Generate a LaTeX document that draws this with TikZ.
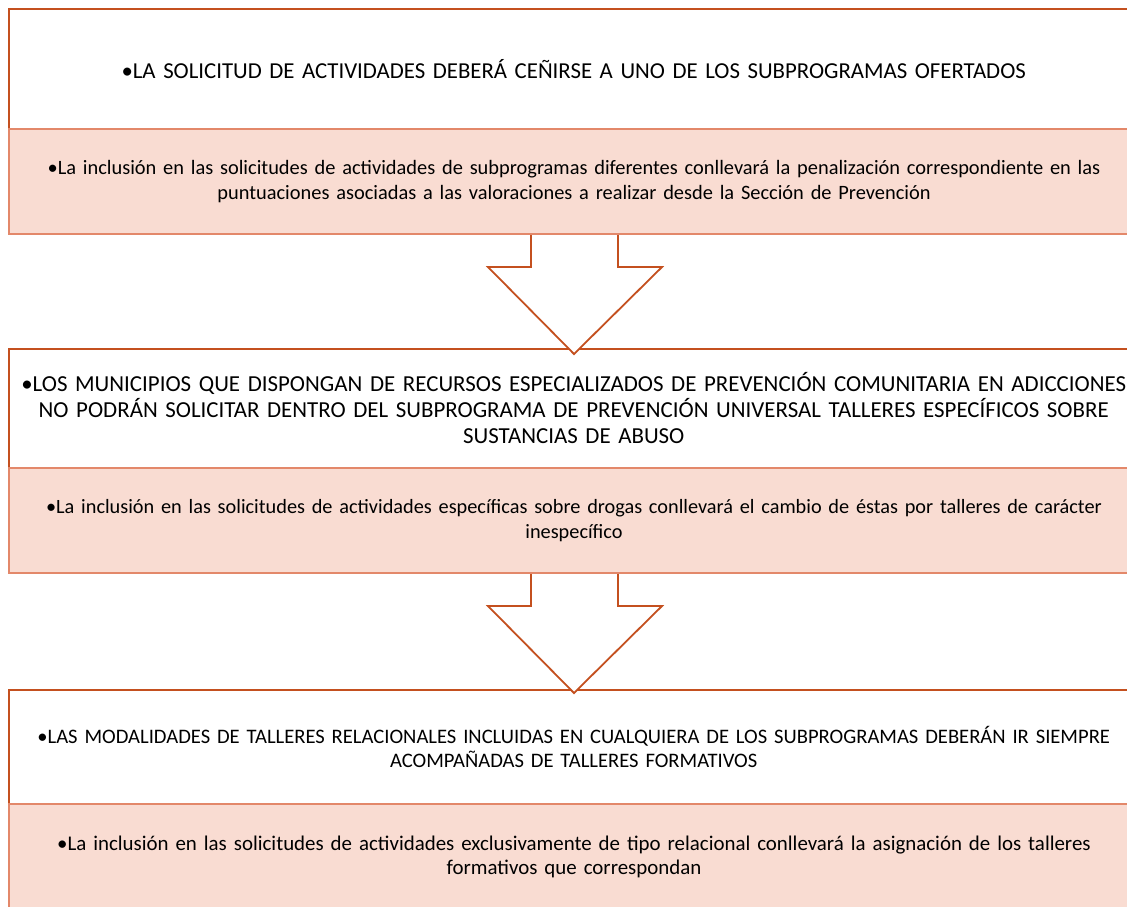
\documentclass[tikz,border=0pt]{standalone}
\usepackage{fontspec}
\setmainfont{Carlito}
\usetikzlibrary{calc}
\definecolor{boxline}{HTML}{C4501F}
\definecolor{pinkfill}{HTML}{F9DCD2}
\definecolor{pinkline}{HTML}{E3886A}
\tikzset{
  whitebox/.style={draw=boxline, line width=1.5pt, fill=white, rectangle, anchor=north west,
    minimum width=1130pt, text width=1125pt, align=center, inner sep=0pt},
  pinkbox/.style={draw=pinkline, line width=2pt, fill=pinkfill, rectangle, anchor=north west,
    minimum width=1130pt, text width=1125pt, align=center, inner sep=0pt},
  downarrow/.style={draw=boxline, line width=1.8pt, fill=white, line join=miter}
}
\begin{document}
\begin{tikzpicture}[x=1pt,y=-1pt]
\useasboundingbox (0,0) rectangle (1127,906);
\fill[white] (0,0) rectangle (1127,906);
% box 1
\node[whitebox, minimum height=120pt, font=\fontsize{22.8}{26}\selectfont] (t1) at (8,8) {•LA SOLICITUD DE ACTIVIDADES DEBERÁ CEÑIRSE A UNO DE LOS SUBPROGRAMAS OFERTADOS};
\node[pinkbox, minimum height=105pt, font=\fontsize{20.4}{24.5}\selectfont] (p1) at (8,128) {•La inclusión en las solicitudes de actividades de subprogramas diferentes conllevará la penalización correspondiente en las\\ puntuaciones asociadas a las valoraciones a realizar desde la Sección de Prevención};
% box 2
\node[whitebox, minimum height=119pt, font=\fontsize{22.9}{26.2}\selectfont] (t2) at (8,348) {•LOS MUNICIPIOS QUE DISPONGAN DE RECURSOS ESPECIALIZADOS DE PREVENCIÓN COMUNITARIA EN ADICCIONES\\ NO PODRÁN SOLICITAR DENTRO DEL SUBPROGRAMA DE PREVENCIÓN UNIVERSAL TALLERES ESPECÍFICOS SOBRE\\ SUSTANCIAS DE ABUSO};
\node[pinkbox, minimum height=105pt, font=\fontsize{20.3}{24.5}\selectfont] (p2) at (8,467) {•La inclusión en las solicitudes de actividades específicas sobre drogas conllevará el cambio de éstas por talleres de carácter\\ inespecífico};
% box 3
\node[whitebox, minimum height=114pt, font=\fontsize{20.6}{24.5}\selectfont] (t3) at (8,689) {•LAS MODALIDADES DE TALLERES RELACIONALES INCLUIDAS EN CUALQUIERA DE LOS SUBPROGRAMAS DEBERÁN IR SIEMPRE\\ ACOMPAÑADAS DE TALLERES FORMATIVOS};
\node[pinkbox, minimum height=106pt, font=\fontsize{20.9}{24.5}\selectfont] (p3) at (8,803) {•La inclusión en las solicitudes de actividades exclusivamente de tipo relacional conllevará la asignación de los talleres\\ formativos que correspondan};
% arrows
\draw[downarrow] ($(p1.south)+(-43,0)$) -- ++(0,32) -- ++(-43,0) -- ($(p1.south)+(0,119)$) -- ($(p1.south)+(88,32)$) -- ++(-44,0) -- ++(0,-32);
\draw[downarrow] ($(p2.south)+(-43,0)$) -- ++(0,32) -- ++(-43,0) -- ($(p2.south)+(0,119)$) -- ($(p2.south)+(88,32)$) -- ++(-44,0) -- ++(0,-32);
\end{tikzpicture}
\end{document}
